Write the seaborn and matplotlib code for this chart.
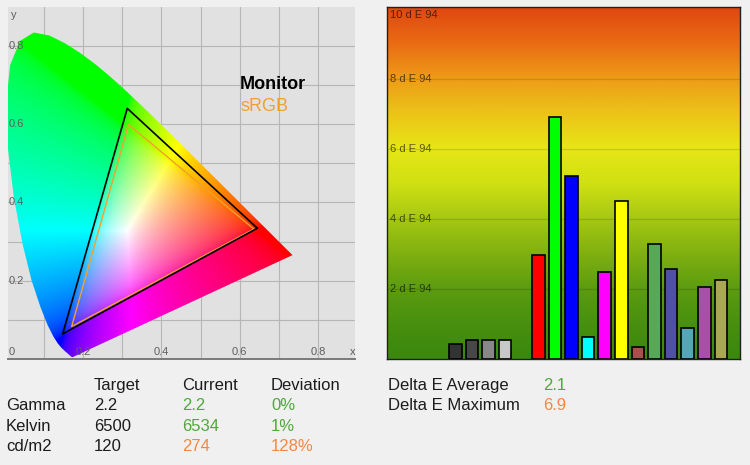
import numpy as np
import pandas as pd
import matplotlib
matplotlib.use("Agg")
import matplotlib.pyplot as plt
from matplotlib.colors import LinearSegmentedColormap
from matplotlib.patches import Polygon
import seaborn as sns

# CIE 1931 spectral locus (380-700 nm, 5 nm steps)
locus_x = [0.1741, 0.1740, 0.1738, 0.1736, 0.1733, 0.1730, 0.1726, 0.1721, 0.1714, 0.1703,
           0.1689, 0.1669, 0.1644, 0.1611, 0.1566, 0.1510, 0.1440, 0.1355, 0.1241, 0.1096,
           0.0913, 0.0687, 0.0454, 0.0235, 0.0082, 0.0039, 0.0139, 0.0389, 0.0743, 0.1142,
           0.1547, 0.1929, 0.2296, 0.2658, 0.3016, 0.3373, 0.3731, 0.4087, 0.4441, 0.4788,
           0.5125, 0.5448, 0.5752, 0.6029, 0.6270, 0.6482, 0.6658, 0.6801, 0.6915, 0.7006,
           0.7079, 0.7140, 0.7190, 0.7230, 0.7260, 0.7283, 0.7300, 0.7311, 0.7320, 0.7327,
           0.7334, 0.7340, 0.7344, 0.7346, 0.7347]
locus_y = [0.0050, 0.0050, 0.0049, 0.0049, 0.0048, 0.0048, 0.0048, 0.0048, 0.0051, 0.0058,
           0.0069, 0.0086, 0.0109, 0.0138, 0.0177, 0.0227, 0.0297, 0.0399, 0.0578, 0.0868,
           0.1327, 0.2007, 0.2950, 0.4127, 0.5384, 0.6548, 0.7502, 0.8120, 0.8338, 0.8262,
           0.8059, 0.7816, 0.7543, 0.7243, 0.6923, 0.6589, 0.6245, 0.5896, 0.5547, 0.5202,
           0.4866, 0.4544, 0.4242, 0.3965, 0.3725, 0.3514, 0.3340, 0.3197, 0.3083, 0.2993,
           0.2920, 0.2859, 0.2809, 0.2770, 0.2740, 0.2717, 0.2700, 0.2689, 0.2680, 0.2673,
           0.2666, 0.2660, 0.2656, 0.2654, 0.2653]

# gamut triangles (red, green, blue)
monitor_x = [0.645, 0.313, 0.148]
monitor_y = [0.334, 0.640, 0.064]
srgb_x = [0.636, 0.316, 0.171]
srgb_y = [0.332, 0.599, 0.083]

# delta E bars
slots = ["Gray 0", "Gray 1", "Gray 2", "Gray 3", "Gray 4", "Gray 5", "Gray 6", "Gray 7", "Gray 8",
         "Red", "Green", "Blue", "Cyan", "Magenta", "Yellow",
         "Mix 1", "Mix 2", "Mix 3", "Mix 4", "Mix 5", "Mix 6"]
bar_names = ["Gray 4", "Gray 5", "Gray 6", "Gray 7",
             "Red", "Green", "Blue", "Cyan", "Magenta", "Yellow",
             "Mix 1", "Mix 2", "Mix 3", "Mix 4", "Mix 5", "Mix 6"]
delta_e = [0.44, 0.55, 0.55, 0.55, 2.96, 6.91, 5.21, 0.63, 2.48, 4.50,
           0.36, 3.28, 2.57, 0.88, 2.06, 2.25]
bar_colors = ["#333333", "#474747", "#888888", "#c8c8c8",
              "#ff0000", "#00ff00", "#0000ff", "#00ffff", "#ff00ff", "#ffff00",
              "#a85050", "#58a858", "#5050a8", "#50a8b8", "#a850a8", "#a8a858"]
de_ticks = [2, 4, 6, 8, 10]

# table values
row_labels = ["Gamma", "Kelvin", "cd/m2"]
targets = ["2.2", "6500", "120"]
currents = ["2.2", "6534", "274"]
deviations = ["0%", "1%", "128%"]
row_ok = [True, True, False]
de_labels = ["Delta E Average", "Delta E Maximum"]
de_values = ["2.1", "6.9"]
de_ok = [True, False]

GREEN = "#4fa83a"
ORANGE = "#f5873f"
TEXT = "#1c1c1c"

sns.set_style("white")
plt.rcParams["font.family"] = ["Liberation Sans", "DejaVu Sans"]

W, H = 750, 465
fig = plt.figure(figsize=(7.5, 4.65), dpi=100, facecolor="#f0f0f0")


def px_axes(x0, y0, x1, y1):
    return fig.add_axes([x0 / W, 1 - y1 / H, (x1 - x0) / W, (y1 - y0) / H])


# ---------------- chromaticity diagram ----------------
ax = px_axes(7.8, 6.6, 354.5, 359)
ax.set_facecolor("#e1e1e1")
ax.set_xlim(0.008, 0.893)
ax.set_ylim(0, 0.9)
ax.set_xticks(np.arange(0.1, 0.9, 0.1))
ax.set_yticks(np.arange(0.1, 0.9, 0.1))
ax.grid(True, color="#b6b6b6", lw=0.8)
ax.tick_params(length=0, labelbottom=False, labelleft=False)
for s in ["top", "right", "left"]:
    ax.spines[s].set_visible(False)
ax.spines["bottom"].set_color("#7a7a7a")
ax.spines["bottom"].set_linewidth(1.4)
ax.set_axisbelow(True)

# horseshoe fill
gx, gy = np.meshgrid(np.linspace(0, 0.75, 500), np.linspace(0.001, 0.85, 500))
X = gx / gy
Y = np.ones_like(gx)
Z = (1 - gx - gy) / gy
M = np.array([[3.2406, -1.5372, -0.4986],
              [-0.9689, 1.8758, 0.0415],
              [0.0557, -0.2040, 1.0570]])
rgb = np.einsum("ij,jhw->hwi", M, np.stack([X, Y, Z]))
rgb = np.clip(rgb, 0, None)
rgb = rgb / rgb.max(axis=2, keepdims=True).clip(1e-9)
rgb = np.where(rgb <= 0.0031308, 12.92 * rgb, 1.055 * rgb ** (1 / 2.4) - 0.055)
rgb = np.clip(rgb, 0, 1)
img = ax.imshow(rgb, origin="lower", extent=(0, 0.75, 0.001, 0.85), aspect="auto",
                interpolation="bilinear", zorder=1)
clip = Polygon(np.column_stack([locus_x, locus_y]), closed=True, transform=ax.transData,
               facecolor="none", edgecolor="none")
ax.add_patch(clip)
img.set_clip_path(clip)

ax.plot(srgb_x + srgb_x[:1], srgb_y + srgb_y[:1], color="#f0a030", lw=1.0, zorder=3)
ax.plot(monitor_x + monitor_x[:1], monitor_y + monitor_y[:1], color="black", lw=1.2, zorder=4)

ax.text(0.601, 0.702, "Monitor", fontsize=13, fontweight="bold", color="black",
        va="center", ha="left", zorder=5)
ax.text(0.601, 0.646, "sRGB", fontsize=13, color="#f0a030", va="center", ha="left", zorder=5)

lab_kw = dict(fontsize=8, color="#5e5e5e", zorder=5)
for v in [0.2, 0.4, 0.6, 0.8]:
    ax.text(v, 0.018, f"{v:.1f}", ha="center", va="center", **lab_kw)
    ax.text(0.011, v, f"{v:.1f}", ha="left", va="center", **lab_kw)
ax.text(0.011, 0.018, "0", ha="left", va="center", **lab_kw)
ax.text(0.017, 0.878, "y", ha="left", va="center", **lab_kw)
ax.text(0.880, 0.018, "x", ha="left", va="center", **lab_kw)

# ---------------- delta E bars ----------------
bx = px_axes(387.3, 7.3, 740, 359.3)
xlim = (-0.096, 21.15)
ylim = (0, 10.03)
stops = [(0.0, "#3a880e"), (0.1, "#48900e"), (0.2, "#5c9c10"), (0.3, "#80b010"),
         (0.4, "#a6c812"), (0.5, "#d0e012"), (0.6, "#e6e616"), (0.7, "#ecc418"),
         (0.8, "#ee9c18"), (0.9, "#ea6c14"), (1.0, "#e04810")]
grad = LinearSegmentedColormap.from_list("de", stops)
bx.imshow(np.linspace(0, 1, 256)[:, None], cmap=grad, origin="lower", aspect="auto",
          extent=(xlim[0], xlim[1], 0, 10), zorder=0)

bars = pd.DataFrame({"patch": bar_names, "dE": delta_e})
sns.barplot(data=bars, x="patch", y="dE", hue="patch", order=slots,
            palette=dict(zip(bar_names, bar_colors)), legend=False,
            width=0.76, edgecolor="black", linewidth=1.2, saturation=1, ax=bx, zorder=3)

for t in de_ticks[:-1]:
    bx.axhline(t, color="black", alpha=0.12, lw=0.9, zorder=1)
for t in de_ticks:
    yy = t if t < 10 else 9.82
    bx.text(0.008, yy, f"{t} d E 94", transform=bx.get_yaxis_transform(),
            fontsize=8, color="black", alpha=0.6, ha="left", va="center", zorder=2)

bx.set_xlim(*xlim)
bx.set_ylim(*ylim)
bx.set_xticks([])
bx.set_yticks([])
bx.set_xlabel("")
bx.set_ylabel("")
for s in bx.spines.values():
    s.set_visible(True)
    s.set_color("#202020")
    s.set_linewidth(1.0)

# ---------------- text table ----------------
fs = 12


def ftext(x, y, s, color=TEXT):
    fig.text(x / W, 1 - y / H, s, fontsize=fs, color=color, ha="left", va="center")


for x, s in zip([94, 182, 271], ["Target", "Current", "Deviation"]):
    ftext(x, 385, s)
for i, y in enumerate([405, 426, 446]):
    c = GREEN if row_ok[i] else ORANGE
    ftext(6, y, row_labels[i])
    ftext(94, y, targets[i])
    ftext(182, y, currents[i], c)
    ftext(271, y, deviations[i], c)
for i, y in enumerate([385, 405]):
    ftext(388, y, de_labels[i])
    ftext(543, y, de_values[i], GREEN if de_ok[i] else ORANGE)

fig.savefig("out.png", dpi=100, facecolor=fig.get_facecolor())
